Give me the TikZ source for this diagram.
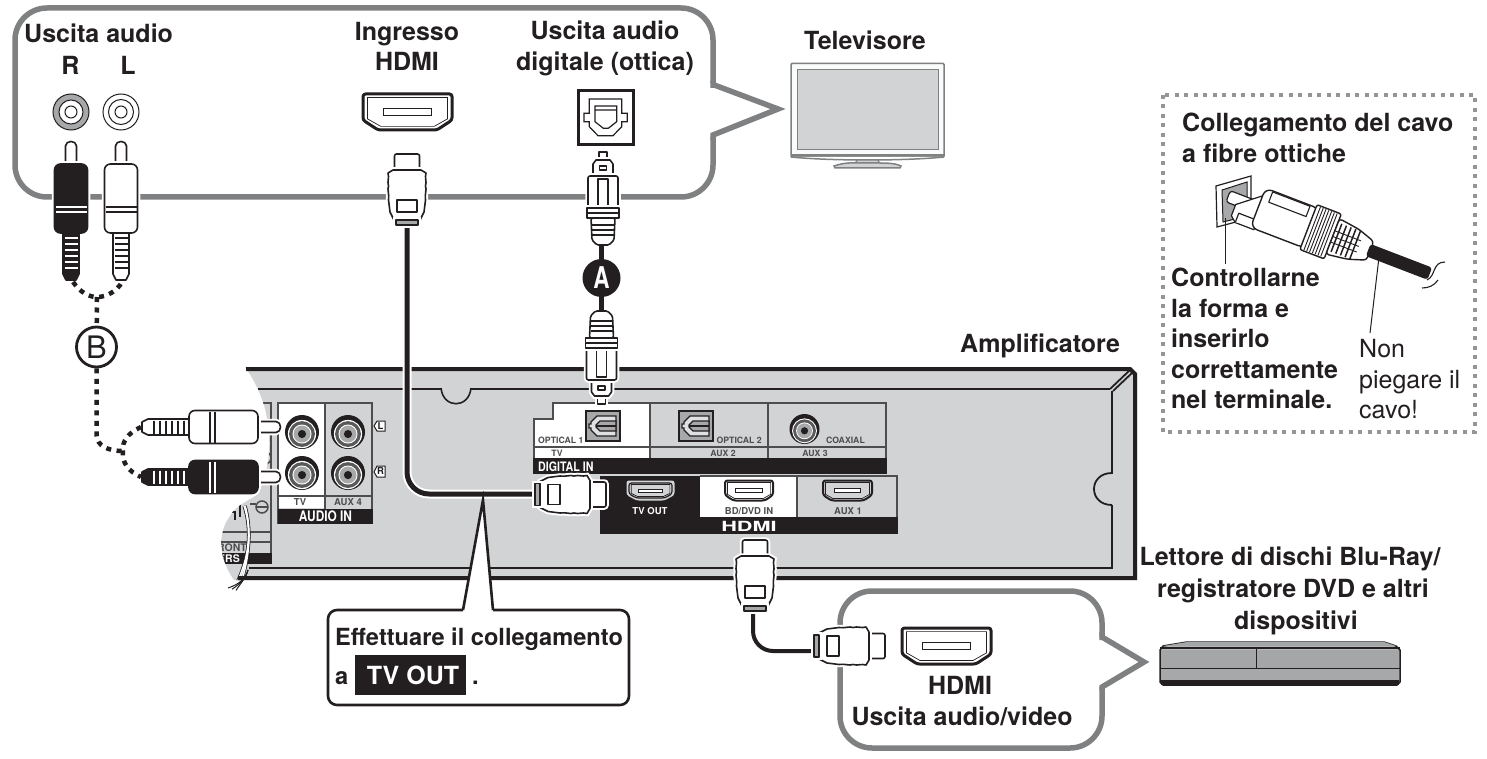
\documentclass[tikz,border=0pt]{standalone}
\usepackage{fontspec}
\setmainfont{TeX Gyre Heros}
\definecolor{ink}{HTML}{231F20}
\definecolor{bubblegray}{HTML}{7F8081}
\definecolor{ampgray}{HTML}{D2D3D5}
\definecolor{midgray}{HTML}{A7A8AA}
\definecolor{panelline}{HTML}{4D4D4F}
\definecolor{dotgray}{HTML}{939598}
\tikzset{
  lab/.style={font=\fontsize{25}{26}\selectfont\bfseries,text=ink,inner sep=0pt,anchor=base},
  labw/.style={lab,anchor=base west},
  reg/.style={font=\fontsize{25}{26}\selectfont,text=ink,inner sep=0pt,anchor=base west},
  tiny/.style={font=\fontsize{8.7}{10}\selectfont\bfseries,text=panelline,inner sep=0pt,anchor=base},
  bubble/.style={draw=bubblegray,line width=5.5pt,fill=white,rounded corners=32pt,line join=round},
  plugline/.style={draw=ink,line width=1.6pt,fill=white,line join=round},
  halo/.style={preaction={draw=white,line width=5.5pt}},
  cable/.style={draw=ink,line width=5pt,line cap=butt},
  dots/.style={draw=ink,line width=4.5pt,dash pattern=on 5pt off 5.5pt},
  pline/.style={draw=panelline,line width=1.5pt},
}
\newcommand{\rcaplug}[5]{%
\begin{scope}[shift={(#1,#2)},rotate=#3]
  \draw[plugline,halo] (-5.5,25)--(-5.5,5) .. controls (-5.5,-1) and (5.5,-1) .. (5.5,5)--(5.5,25);
  \draw[plugline,halo,fill=#4,rounded corners=6pt] (-16.5,23)--(16.5,23)--(16.5,92)--(-16.5,92)--cycle;
  \draw[#5,line width=1.1pt] (-15.5,66)--(15.5,66) (-15.5,71)--(15.5,71);
  \draw[plugline,fill=#4] (-8,92)--(8,92)--(8,133)--(5,139)--(-5,139)--(-8,133)--cycle;
  \foreach \k in {97,103,...,129} \draw[#5,line width=1.1pt] (-6.5,\k)--(6.5,\k);
\end{scope}}
\newcommand{\opticalplug}[3]{%
\begin{scope}[shift={(#1,#2)},rotate=#3]
  \draw[plugline,halo] (-4,0) rectangle (4,9);
  \draw[plugline,halo] (-10,25)--(-10,12)--(-7,8)--(7,8)--(10,12)--(10,25)--cycle;
  \draw[plugline] (-3.5,14) rectangle (3.5,18);
  \draw[plugline,halo,rounded corners=2pt] (-15,24)--(15,24)--(15,56)--(-15,56)--cycle;
  \draw[plugline] (-5,27) rectangle (5,55);
  \draw[plugline,halo] (-16,56) rectangle (16,61);
  \draw[plugline] (-16,61) rectangle (16,66);
  \draw[plugline,rounded corners=1.5pt] (-12,66)--(12,66)--(11,88)--(6,93)--(-6,93)--(-11,88)--cycle;
  \foreach \k in {73,78,83} \draw[ink,line width=1.2pt] (-11,\k)--(11,\k);
\end{scope}}
\newcommand{\hdmiplug}[3]{%
\begin{scope}[shift={(#1,#2)},rotate=#3]
  \draw[plugline,halo,rounded corners=2pt] (-12.5,17)--(-12.5,0)--(12.5,0)--(12.5,17);
  \draw[plugline,halo] (-14,16)--(14,16)--(19,19) .. controls (17.5,24) and (20,27) .. (18.5,32) .. controls (20,36) and (17.5,40) .. (18.5,46)--(17,58)--(13,66)--(-13,66)--(-17,58)--(-18.5,46) .. controls (-17.5,40) and (-20,36) .. (-18.5,32) .. controls (-20,27) and (-17.5,24) .. (-19,19)--cycle;
  \draw[plugline] (-10,46) rectangle (10,58);
  \draw[plugline,halo,fill=midgray] (-11,66) rectangle (11,71);
\end{scope}}
\newcommand{\hdmiport}[7]{%
\begin{scope}[shift={(#1,#2)},xscale=#3,yscale=#4]
  \draw[draw=#6,line width=#5,fill=#7,rounded corners=2.5pt,line join=round] (-1,-1)--(1,-1)--(1,.45)--(.66,1)--(-.66,1)--(-1,.45)--cycle;
  \draw[draw=#6,line width=.7pt] (-.9,-.8)--(.9,-.8)--(.9,.38)--(.6,.8)--(-.6,.8)--(-.9,.38)--cycle;
  \draw[draw=#6,line width=1pt,fill=white] (-.55,-.2) rectangle (.55,.2);
\end{scope}}
\newcommand{\ampjack}[3]{%
\begin{scope}[shift={(#1,#2)},scale=#3]
  \fill[ink] (0,0) circle[radius=1];
  \fill[white] (0,.12) circle[radius=.83];
  \fill[black!65] (0,.12) circle[radius=.76];
  \fill[white] (0,.12) circle[radius=.56];
  \fill[midgray] (0,.12) circle[radius=.5];
  \fill[ink] (0,.12) circle[radius=.24];
\end{scope}}
\newcommand{\ampoptical}[2]{%
\begin{scope}[shift={(#1,#2)}]
  \draw[ink,line width=1.8pt,fill=midgray] (0,0) rectangle (34,30);
  \draw[ink,line width=1pt] (.8,.8) rectangle (33.2,29.2);
  \draw[ink,line width=1.3pt,fill=ampgray!70] (30,5)--(11,5)--(5,11)--(5,13)--(3,13)--(3,17)--(5,17)--(5,19)--(11,25)--(30,25)--cycle;
  \draw[ink,line width=1.3pt,fill=midgray] (30,10)--(14,10)--(10,14)--(10,16)--(14,20)--(30,20)--cycle;
  \draw[ink,line width=1.3pt] (10,15)--(30,15);
\end{scope}}
\begin{document}
\begin{tikzpicture}[x=1pt,y=-1pt]
\useasboundingbox (0,0) rectangle (1487,759);
\fill[white] (0,0) rectangle (1487,759);

% ---------- amplifier body
\def\ampoutline{(245,367)--(1130,367)--(1137,374)--(1137,580)--(234,580) .. controls (224,566) and (219,548) .. (222,535) .. controls (224,525) and (226,522) .. (230,516) .. controls (236,505) and (250,500) .. (258,494) .. controls (270,470) and (272,440) .. (266,413) .. controls (262,395) and (253,378) .. (245,367)--cycle}
\fill[ampgray] \ampoutline;
\begin{scope}
  \clip \ampoutline;
  \draw[pline] (262,403)--(271,403)--(271,563);
  \fill[ink] (215,553) rectangle (272,564);
  \node[font=\fontsize{10.5}{11}\selectfont\bfseries,text=white,inner sep=0pt,anchor=base east] (ers) at (240,562) {ERS};
  \node[font=\fontsize{10.5}{11}\selectfont\bfseries,text=panelline,inner sep=0pt,anchor=base east] (fronttxt) at (247,551) {FRONT};
  \draw[pline] (215,532)--(271,532) (215,542)--(271,542);
  \draw[ink,line width=2pt] (226,505)--(240,505)--(240,517) (226,512)--(235,512)--(235,520);
  \draw[pline] (262,507) circle[radius=6];
  \draw[pline] (257,507)--(267,507) (250,504)--(256,504);
  \draw[pline] (265,458) circle[radius=6];
  \foreach \w in {0,3,6}
    \draw[ink,line width=3pt] (244+\w*.2,506) .. controls (252,530) and (250,560) .. (232+\w,592);
  \foreach \w in {0,3,6}
    \draw[white,line width=1.4pt] (244+\w*.2,506) .. controls (252,530) and (250,560) .. (232+\w,592);
\end{scope}
\foreach \w in {0,4,8}{
  \draw[ink,line width=1pt] (248,570) .. controls (246,578) and (240,584) .. (228+\w,588+\w*.3);
}
\draw[ink,line width=4pt] (246,369)--(1130,369)--(1135,374)--(1135,578)--(238,578);
\draw[ink,line width=1.8pt] (258,389)--(1110,389);
\draw[ink,line width=1.8pt] (1110,389)--(1130,370) (1113,391)--(1133,372);
\draw[ink,line width=1.8pt] (249,568)--(1112,568)--(1112,505);
\draw[ink,line width=1.8pt] (1112,505) .. controls (1088,505) and (1088,473) .. (1112,473)--(1112,391);
\draw[ink,line width=1.6pt,fill=ampgray] (441,388) .. controls (443,409) and (469,409) .. (471,388);

% ---------- AUDIO IN panel
\fill[white] (278,403) rectangle (325,496);
\draw[pline] (278,403) rectangle (372,523);
\draw[pline] (325,403)--(325,509) (278,496)--(372,496);
\fill[white] (279,497) rectangle (324.3,508);
\fill[ink] (277.5,509) rectangle (372.7,523.7);
\ampjack{302}{432}{17}
\ampjack{348}{432}{17}
\ampjack{302}{473}{17}
\ampjack{348}{473}{17}
\node[tiny,font=\fontsize{9.5}{10}\selectfont\bfseries] (tvlab) at (300,505) {TV};
\node[tiny,font=\fontsize{9.5}{10}\selectfont\bfseries] (aux4lab) at (348,505) {AUX 4};
\node[font=\fontsize{14.5}{15}\selectfont\bfseries,text=white,inner sep=0pt,anchor=base] (audioin) at (325.5,521) {\scalebox{.82}[1]{AUDIO IN}};
\draw[ink,line width=1pt,fill=white] (374,426)--(377,421)--(385,421)--(385,431)--(377,431)--cycle;
\node[font=\fontsize{9.5}{10}\selectfont\bfseries,text=ink,inner sep=0pt] (ltag) at (380.5,426) {L};
\draw[ink,line width=1pt,fill=white] (374,472)--(377,466)--(385,466)--(385,477)--(377,477)--cycle;
\node[font=\fontsize{9.5}{10}\selectfont\bfseries,text=ink,inner sep=0pt] (rtag) at (380.5,471.5) {R};

% ---------- DIGITAL IN panel
\fill[white] (553,403)--(650,403)--(650,458)--(534,458)--(534,419)--(553,419)--cycle;
\draw[pline] (534,458)--(534,419)--(553,419)--(553,403)--(886,403)--(886,473);
\draw[pline] (650,403)--(650,458) (768,403)--(768,458);
\draw[panelline,line width=1.8pt] (534,447)--(886,447);
\fill[ink] (533.3,458) rectangle (886.7,473.5);
\ampoptical{586}{411}
\ampoptical{679}{411}
\ampjack{804.5}{429}{15}
\node[tiny,anchor=base west] (opt1) at (538,443) {OPTICAL 1};
\node[tiny,anchor=base east] (opt2) at (762,443) {OPTICAL 2};
\node[tiny,anchor=base east] (coax) at (865,443) {COAXIAL};
\node[tiny] (tv2) at (557,456) {TV};
\node[tiny] (aux2) at (723,456) {AUX 2};
\node[tiny] (aux3) at (815,456) {AUX 3};
\node[font=\fontsize{13}{14}\selectfont\bfseries,text=white,inner sep=0pt,anchor=base west] (digin) at (538,471) {\scalebox{.82}[1]{DIGITAL IN}};

% ---------- HDMI panel
\fill[ink] (600,476) rectangle (700,534);
\fill[white] (700,476) rectangle (797,517);
\draw[pline] (700,476)--(897,476)--(897,534);
\fill[ink] (700,517) rectangle (897.7,534);
\draw[pline] (797,476)--(797,517);
\fill[ampgray,rounded corners=2.5pt] (626.5,480.5)--(674.5,480.5)--(674.5,495)--(664.5,500.5)--(636.5,500.5)--(626.5,495)--cycle;
\hdmiport{650.5}{490.5}{21.5}{7.5}{1.2pt}{ink}{ampgray}
\hdmiport{749}{490.5}{24}{10}{2pt}{ink}{white}
\hdmiport{847.5}{490.5}{24.5}{10}{2pt}{ink}{ampgray}
\node[tiny,text=white,font=\fontsize{9.5}{10}\selectfont\bfseries] (tvoutlab) at (650,514) {TV OUT};
\node[tiny,font=\fontsize{9.5}{10}\selectfont\bfseries] (bdlab) at (749,514) {BD/DVD IN};
\node[tiny,font=\fontsize{9.5}{10}\selectfont\bfseries] (aux1lab) at (848,514) {AUX 1};
\node[font=\fontsize{14}{14}\selectfont\bfseries,text=white,inner sep=0pt,anchor=base] (hdmilogo) at (749,531) {\scalebox{1.55}[1]{HDMI}};

% ---------- speech bubbles
\draw[bubble] (713,85)--(713,8)--(15,8)--(15,197)--(713,197)--(713,135);
\fill[white] (705,83) rectangle (722,137);
\draw[draw=bubblegray,line width=5.5pt,line join=miter] (713,88)--(713,84.5)--(778,109)--(713,135)--(713,140);
\draw[bubble] (1102,637)--(1102,591)--(840,591)--(840,748)--(1102,748)--(1102,687);
\draw[draw=bubblegray,line width=5.5pt,line join=miter,fill=white] (1102,640)--(1102,637)--(1144,662)--(1102,687)--(1102,690);

% ---------- top sockets
\begin{scope}[shift={(71,112)}]
  \draw[ink,line width=1pt,fill=midgray] (0,0) circle[radius=18];
  \draw[ink,line width=1pt,fill=white] (0,0) circle[radius=12];
  \draw[ink,line width=1pt] (0,0) circle[radius=6];
\end{scope}
\begin{scope}[shift={(121,112)}]
  \draw[ink,line width=1pt,fill=white] (0,0) circle[radius=18];
  \draw[ink,line width=1pt] (0,0) circle[radius=12.5];
  \draw[ink,line width=1pt] (0,0) circle[radius=6];
\end{scope}
\hdmiport{407.5}{112}{44.5}{18}{3pt}{ink}{white}
\draw[ink,line width=3pt,fill=white] (578,91) rectangle (633,145);
\draw[ink,line width=1.2pt] (589.3,99)--(621.7,99)--(621.7,113.3)--(627.3,113.3)--(627.3,121.7)--(621.7,121.7)--(621.7,126.7)--(613,135.7)--(598,135.7)--(589.3,126.7)--(589.3,121.7)--(584,121.7)--(584,113.3)--(589.3,113.3)--cycle;
\draw[ink,line width=1.2pt] (595,106)--(616.7,106)--(616.7,121.7)--(608.3,128.3)--(603.3,128.3)--(595,121.7)--cycle (595,110)--(616.7,110);

% ---------- television
\draw[bubblegray,line width=1.5pt,fill=white!90!ampgray,rounded corners=1pt] (791,63.5) rectangle (944,157);
\draw[bubblegray,line width=1.2pt,fill=ampgray] (797.5,69.5) rectangle (938.5,149.5);
\draw[bubblegray,line width=1.2pt] (791,155)--(944,155);
\draw[bubblegray,line width=1.5pt,fill=white] (791,157) .. controls (830,161) and (905,161) .. (944,157);
\draw[bubblegray,line width=1.2pt,fill=ampgray] (857,160)--(878,160)--(880,164)--(855,164)--cycle;
\draw[bubblegray,line width=1.5pt,fill=ampgray] (834,166) .. controls (845,162) and (855,163) .. (855,163)--(880,163) .. controls (885,163) and (895,163) .. (901,166)--(900,168)--(835,168)--cycle;

% ---------- disc player
\draw[ink,line width=1.5pt,fill=bubblegray!55,line join=round] (1160,650)--(1163,646)--(1187,642)--(1384,642)--(1396,646)--(1400,650)--(1400,682)--(1397,685)--(1163,685)--(1160,682)--cycle;
\fill[bubblegray!70] (1163,646)--(1187,642)--(1384,642)--(1396,646)--cycle;
\fill[bubblegray!70] (1161,650) rectangle (1399,668);
\fill[midgray] (1161,669) rectangle (1399,680);
\draw[ink,line width=1.2pt] (1160,648)--(1400,648);
\draw[ink,line width=1pt] (1160,668)--(1400,668);
\draw[ink,line width=1pt] (1256,649)--(1256,668);
\fill[ink] (1161,680) rectangle (1399,685);

% ---------- text
\node[labw] (usc1) at (24,43) {Uscita audio};
\node[lab] (rlab) at (70.5,75) {R};
\node[lab] (llab) at (128,75) {L};
\node[lab] (ingr) at (407,41) {Ingresso};
\node[lab] (hdmi1) at (407,71) {HDMI};
\node[lab] (usc2) at (605,40) {Uscita audio};
\node[lab] (digi) at (605,71) {digitale (ottica)};
\node[lab] (tvname) at (865,50) {Televisore};
\node[labw] (amp) at (960,352) {Amplificatore};
\node[lab] (bd1) at (1290,565) {Lettore di dischi Blu-Ray/};
\node[lab] (bd2) at (1293,597) {registratore DVD e altri};
\node[lab] (bd3) at (1296,629) {dispositivi};
\node[lab] (hdmi2) at (960,694) {HDMI};
\node[lab] (av) at (962,725) {Uscita audio/video};

% ---------- cables
\coordinate (topcableA) at (407,224);
\coordinate (topcableB) at (537,494);
\coordinate (lowcableA) at (753,607);
\coordinate (lowcableB) at (816,651);
\draw[white,line width=9pt,rounded corners=22pt] (topcableA) |- (topcableB);
\draw[cable,rounded corners=22pt] (topcableA) |- (topcableB);
\draw[cable,line width=4pt,rounded corners=20pt] (lowcableA) |- (lowcableB);
\coordinate (optA) at (601.5,244);
\coordinate (optB) at (601.5,312);
\draw[cable] (optA)--(optB);
\node[circle,fill=ink,minimum size=38pt,inner sep=0pt,text=white,font=\fontsize{30}{30}\selectfont\bfseries] (Acirc) at (601.5,278) {\scalebox{.75}[1]{A}};

% ---------- dotted links
\node[circle,draw=ink,line width=2.8pt,fill=white,minimum size=40pt,inner sep=0pt,font=\fontsize{31}{31}\selectfont,text=ink] (Bcirc) at (96.5,347) {B};
\coordinate (rtop) at (73,282);
\coordinate (ltop) at (122,282);
\coordinate (rlow) at (141,427);
\coordinate (blow) at (141,477);
\coordinate (joinA) at (97,297);
\coordinate (joinB) at (123,451);
\draw[dots] (rtop) .. controls (81,293) and (89,297) .. (joinA) .. controls (107,297) and (117,291) .. (ltop);
\draw[dots] (joinA)--(Bcirc);
\draw[dots] (Bcirc)--(96.5,435) .. controls (97,446) and (108,451) .. (joinB);
\draw[dots] (rlow) .. controls (128,433) and (122,441) .. (joinB) .. controls (122,463) and (128,471) .. (blow);

% ---------- plugs
\rcaplug{71}{141}{0}{ink}{white}
\rcaplug{121}{141}{0}{white}{ink}
\rcaplug{281}{427}{-90}{white}{ink}
\rcaplug{281}{477}{-90}{ink}{white}
\hdmiplug{407}{154}{0}
\hdmiplug{606}{494.5}{-90}
\hdmiplug{755}{540}{0}
\hdmiplug{885}{646}{-90}
\opticalplug{603}{152}{0}
\opticalplug{601.5}{404}{180}
\hdmiport{946.5}{646}{44.5}{18}{3pt}{ink}{white}

% ---------- callout
\draw[ink,line width=2.6pt,fill=white,line join=round,rounded corners=9pt] (463,610)--(328,610)--(328,705)--(629,705)--(629,610)--(493,610);
\fill[white] (463,612)--(483,500)--(493,612)--cycle;
\draw[ink,line width=2.6pt,line join=miter] (463,610)--(483,500)--(493,610);
\node[labw,font=\fontsize{23.6}{24}\selectfont\bfseries] (effet) at (335,645) {Effettuare il collegamento};
\node[labw,font=\fontsize{23.6}{24}\selectfont\bfseries] (alab) at (335,684) {a};
\fill[ink] (355,655) rectangle (466,695);
\node[lab,text=white,font=\fontsize{25}{25}\selectfont\bfseries] (tvout) at (413,684) {TV OUT};
\node[labw,font=\fontsize{23.6}{24}\selectfont\bfseries] (dot) at (472,684) {.};

% ---------- fibre inset
\draw[dotgray,line width=3.8pt,dash pattern=on 4pt off 5.5pt] (1163,95) rectangle (1475,432);
\node[labw] (c1) at (1182,132) {Collegamento del cavo};
\node[labw] (c2) at (1182,163) {a fibre ottiche};
\node[labw] (c3) at (1171,286) {Controllarne};
\node[labw] (c4) at (1171,317) {la forma e};
\node[labw] (c5) at (1171,347) {inserirlo};
\node[labw] (c6) at (1171,378) {correttamente};
\node[labw] (c7) at (1171,408) {nel terminale.};
\node[reg] (n1) at (1359,357) {Non};
\node[reg] (n2) at (1359,388) {piegare il};
\node[reg] (n3) at (1359,418) {cavo!};
\draw[ink,line width=1.2pt,fill=white] (1216,186)--(1251,176)--(1251,218)--(1217,227)--cycle;
\draw[ink,line width=1pt,fill=midgray] (1222,190)--(1247,182)--(1247,216)--(1223,222)--cycle;
\coordinate (porttip) at (1225,218);
\coordinate (porttxt) at (1225,264);
\coordinate (cabletip) at (1379,257);
\coordinate (cabletxt) at (1370,333);
\begin{scope}[shift={(1230,197)},rotate=-21]
  \draw[plugline,line width=1.2pt,rounded corners=3pt] (-2,-6)--(25,-6)--(25,6)--(-2,6)--cycle;
  \draw[plugline,line width=1.2pt] (8,5)--(34,-16)--(34,22)--(14,22)--(8,17)--cycle;
  \draw[plugline,line width=1.2pt] (14,22)--(14,12)--(34,12);
  \draw[plugline,line width=1.4pt,rounded corners=7pt] (30,-21)--(88,-21)--(88,21)--(30,21)--cycle;
  \draw[plugline,line width=1.1pt] (38,-20)--(78,-20)--(78,-9)--(38,-9)--cycle;
  \draw[plugline,line width=1.4pt,rounded corners=2pt] (84,-24)--(110,-24)--(110,24)--(84,24)--cycle;
  \foreach \k in {88,91,...,108} \draw[ink,line width=.9pt] (\k,-23)--(\k,23);
  \draw[plugline,line width=1.4pt,rounded corners=3pt] (110,-19)--(132,-16)--(150,-10)--(150,10)--(132,16)--(110,19)--cycle;
  \foreach \k in {114,119,...,134} \draw[ink,line width=1.5pt] (\k,-15)--(\k,15);
  \draw[ink,line width=.9pt] (110,-6)--(138,-6) (110,0)--(138,0) (110,6)--(138,6);
  \fill[ink,rounded corners=3pt] (148,-6.5) rectangle (214,6.5);
\end{scope}
\draw[ink,line width=1.1pt] (1445,262) .. controls (1432,262) and (1436,276) .. (1427,280);
\draw[ink,line width=1.1pt] (1438,280) .. controls (1434,286) and (1428,288) .. (1422,288);
\draw[ink,line width=1pt] (porttip)--(porttxt);
\draw[ink,line width=1pt] (cabletip)--(cabletxt);
\end{tikzpicture}
\end{document}
